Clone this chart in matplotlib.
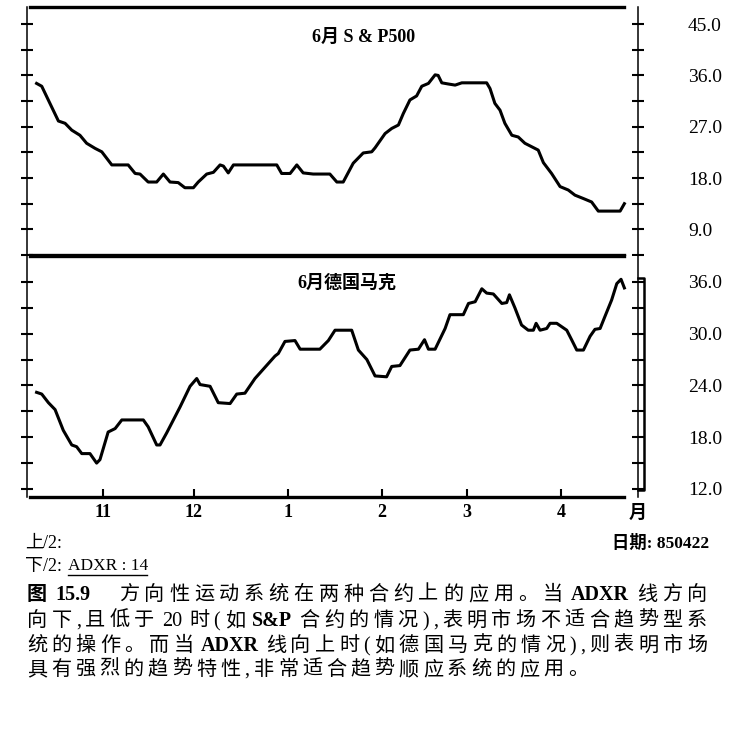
import re
import matplotlib
matplotlib.use("Agg")
import matplotlib.pyplot as plt
import matplotlib.transforms as mtransforms
from matplotlib.lines import Line2D
from matplotlib.ticker import FixedLocator

plt.rcParams['font.family'] = ['Liberation Serif', 'Noto Sans CJK SC']

W, H = 749, 738

# x values are calendar days counted from 1984-10-01
month_days = [31, 61, 92, 123, 151, 182]
month_labels = ['11', '12', '1', '2', '3', '4']

# June S&P500 ADXR(14)
sp_days = [9.1, 10.8, 13.5, 16.3, 18.5, 20.7, 23.4, 25.6, 28.4, 30.6, 33.9, 39.3, 41.6, 43.2,
           45.9, 48.7, 50.9, 53.1, 55.8, 58.0, 60.8, 62.4, 65.2, 67.4, 69.6, 70.7, 72.3, 74.0,
           88.3, 89.9, 92.7, 94.9, 97.0, 100.3, 105.8, 108.1, 110.2, 113.5, 116.8, 119.6, 120.7,
           124.0, 126.2, 128.4, 130.0, 132.2, 134.4, 136.1, 138.3, 140.5, 141.5, 142.7, 144.8,
           147.1, 149.3, 157.5, 158.6, 160.2, 161.9, 163.5, 165.8, 167.9, 170.1, 172.3, 174.5,
           176.2, 178.9, 181.7, 184.4, 186.6, 189.4, 192.1, 194.3, 201.5, 202.9]
sp_adxr = [34.6, 34.1, 31.1, 28.0, 27.6, 26.4, 25.5, 24.1, 23.2, 22.6, 20.3, 20.3, 18.8, 18.7,
           17.3, 17.3, 18.7, 17.3, 17.2, 16.3, 16.3, 17.3, 18.7, 19.0, 20.3, 20.1, 18.9, 20.3,
           20.3, 18.8, 18.8, 20.3, 18.9, 18.7, 18.7, 17.3, 17.3, 20.6, 22.4, 22.6, 23.3,
           25.8, 26.7, 27.3, 29.3, 31.7, 32.4, 34.1, 34.6, 36.1, 36.0, 34.7, 34.5,
           34.3, 34.7, 34.7, 33.7, 31.1, 29.9, 27.6, 25.5, 25.2, 24.1, 23.5, 22.9,
           20.7, 18.8, 16.5, 15.9, 15.0, 14.4, 13.8, 12.2, 12.2, 13.5]

# June Deutsche mark ADXR(14)
dm_days = [9.1, 10.8, 13.0, 15.2, 17.9, 20.7, 22.3, 24.0, 26.7, 28.9, 30.0, 32.7, 35.0, 37.2,
           44.3, 45.9, 48.7, 49.8, 52.0, 56.4, 59.7, 61.9, 63.0, 66.3, 69.0, 72.9, 75.1, 77.8,
           81.1, 84.4, 87.7, 88.8, 91.0, 94.3, 96.0, 102.5, 105.3, 107.5, 113.0, 115.2, 118.0,
           120.7, 124.5, 126.2, 128.9, 131.1, 132.2, 135.0, 137.0, 138.3, 140.5, 143.8, 145.4,
           149.8, 151.5, 153.7, 155.9, 157.5, 159.7, 162.5, 164.1, 165.0, 166.8, 169.0, 171.2,
           172.9, 173.8, 175.1, 177.3, 178.4, 180.6, 183.9, 185.5, 187.2, 189.4, 191.6, 193.2,
           194.9, 196.5, 198.7, 200.4, 201.8, 202.9]
dm_adxr = [23.2, 23.0, 22.0, 21.2, 18.8, 17.1, 16.9, 16.1, 16.1, 15.0, 15.4, 18.6, 19.0, 20.0,
           20.0, 19.2, 17.1, 17.1, 18.5, 21.5, 23.9, 24.8, 24.1, 23.9, 22.0, 21.9, 23.0, 23.1,
           24.8, 26.1, 27.4, 27.7, 29.1, 29.2, 28.2, 28.2, 29.2, 30.4, 30.4, 28.1, 27.0,
           25.1, 25.0, 26.2, 26.3, 27.5, 28.1, 28.2, 29.3, 28.2, 28.2, 30.6, 32.2,
           32.2, 33.5, 33.7, 35.2, 34.7, 34.6, 33.5, 33.6, 34.5, 33.0, 31.0, 30.4,
           30.4, 31.2, 30.4, 30.6, 31.2, 31.2, 30.4, 29.3, 28.1, 28.1, 29.7, 30.5,
           30.6, 32.0, 33.9, 35.8, 36.3, 35.3]

top_ticks = [9.0, 18.0, 27.0, 36.0, 45.0]
top_minor = [4.5, 13.5, 22.5, 31.5, 40.5]
bottom_ticks = [12.0, 18.0, 24.0, 30.0, 36.0]
bottom_minor = [15.0, 21.0, 27.0, 33.0]

caption = [
    "图 15.9  方向性运动系统在两种合约上的应用。当 ADXR 线方向",
    "向下,且低于 20 时(如 S&P 合约的情况),表明市场不适合趋势型系",
    "统的操作。而当 ADXR 线向上时(如德国马克的情况),则表明市场",
    "具有强烈的趋势特性,非常适合趋势顺应系统的应用。",
]


def fx(x):
    return x / W


def fy(y):
    return 1 - y / H


def day_at(px):
    return 31 + (px - 103) / 3.033


fig = plt.figure(figsize=(W / 100, H / 100), dpi=100)
ax1 = fig.add_axes([fx(27), fy(255), 611 / W, 248 / H])
ax2 = fig.add_axes([fx(27), fy(497), 611 / W, 241 / H])


def style_panel(ax, ylim, major, minor):
    ax.set_xlim(day_at(27), day_at(638))
    ax.set_ylim(*ylim)
    for side in ('top', 'bottom'):
        ax.spines[side].set_linewidth(2.4)
        ax.spines[side].set_bounds(day_at(30), day_at(624))
    for side in ('left', 'right'):
        ax.spines[side].set_linewidth(1.1)
        ax.spines[side].set_linestyle((0, (3, 1)))
    ax.yaxis.set_major_locator(FixedLocator(major))
    ax.yaxis.set_minor_locator(FixedLocator(minor))
    ax.set_yticklabels(['%.1f' % v for v in major])
    ax.tick_params(axis='y', which='both', left=True, right=True, labelleft=False,
                   labelright=True, direction='inout', length=8, width=1.5, pad=32,
                   labelsize=14)


style_panel(ax1, (4.5, 48.0), top_ticks, top_minor)
style_panel(ax2, (11.07, 39.0), bottom_ticks, bottom_minor)

ax1.plot(sp_days, sp_adxr, color='black', lw=2.2)
ax2.plot(dm_days, dm_adxr, color='black', lw=2.2)

ax1.set_xticks([])
ax2.set_xticks(month_days)
ax2.set_xticklabels(month_labels, fontweight='bold', fontsize=13)
ax2.tick_params(axis='x', direction='in', length=6, width=1.5, pad=5, top=False)

# bracket beside the lower right scale
trans = mtransforms.blended_transform_factory(ax2.transAxes, ax2.transData)
ax2.plot([1.0, 1.0098, 1.0098, 1.0], [36.4, 36.4, 11.9, 11.9], color='black', lw=1.8,
         transform=trans, clip_on=False)

fig.text(fx(364), fy(37), '6月 S & P500', ha='center', va='center', fontsize=13,
         fontweight='bold')
fig.text(fx(347), fy(283), '6月德国马克', ha='center', va='center', fontsize=13,
         fontweight='bold')
fig.text(fx(638), fy(513), '月', ha='center', va='center', fontsize=13, fontweight='bold')
fig.text(fx(25), fy(543), '上/2:', ha='left', va='center', fontsize=13)
fig.text(fx(25), fy(566), '下/2:', ha='left', va='center', fontsize=13)
fig.text(fx(68), fy(566), 'ADXR : 14', ha='left', va='center', fontsize=12.5)
fig.add_artist(Line2D([fx(68), fx(147)], [fy(575), fy(575)], color='black', lw=1.0))
fig.text(fx(612), fy(543), '日期: 850422', ha='left', va='center', fontsize=12.5,
         fontweight='bold')

# caption, spread out to the full text width like the printed page
renderer = fig.canvas.get_renderer()
bold_words = {'图', '15.9', 'ADXR', 'S&P'}
size = 14.5
em = size * 100 / 72


def caption_line(text, x0, x1, base):
    pieces = re.findall(r'[A-Za-z0-9.&]+| +|.', text)
    items = []
    for p in pieces:
        if p.strip() == '':
            width = 0.15 * em if len(p) == 1 else (len(p) - 1) * 1.2 * em
            items.append((None, width))
            continue
        weight = 'bold' if p in bold_words else 'normal'
        t = fig.text(0, fy(base), p, fontsize=size, fontweight=weight, ha='left',
                     va='baseline')
        items.append((t, t.get_window_extent(renderer).width))
    n_gaps = sum(1 for t, _ in items if t is not None) - 1
    total = sum(w for _, w in items)
    extra = (x1 - x0 - total) / n_gaps
    x = x0
    for i, (t, w) in enumerate(items):
        if t is not None:
            t.set_x(fx(x))
            x += w
            if i + 1 < len(items) and items[i + 1][0] is not None:
                x += extra
        else:
            x += w + extra


bases = [600, 626, 651, 675]
ends = [707, 707, 707, 588]
for line, b, e in zip(caption, bases, ends):
    caption_line(line, 27, e, b)

fig.savefig('out.png', dpi=100)
